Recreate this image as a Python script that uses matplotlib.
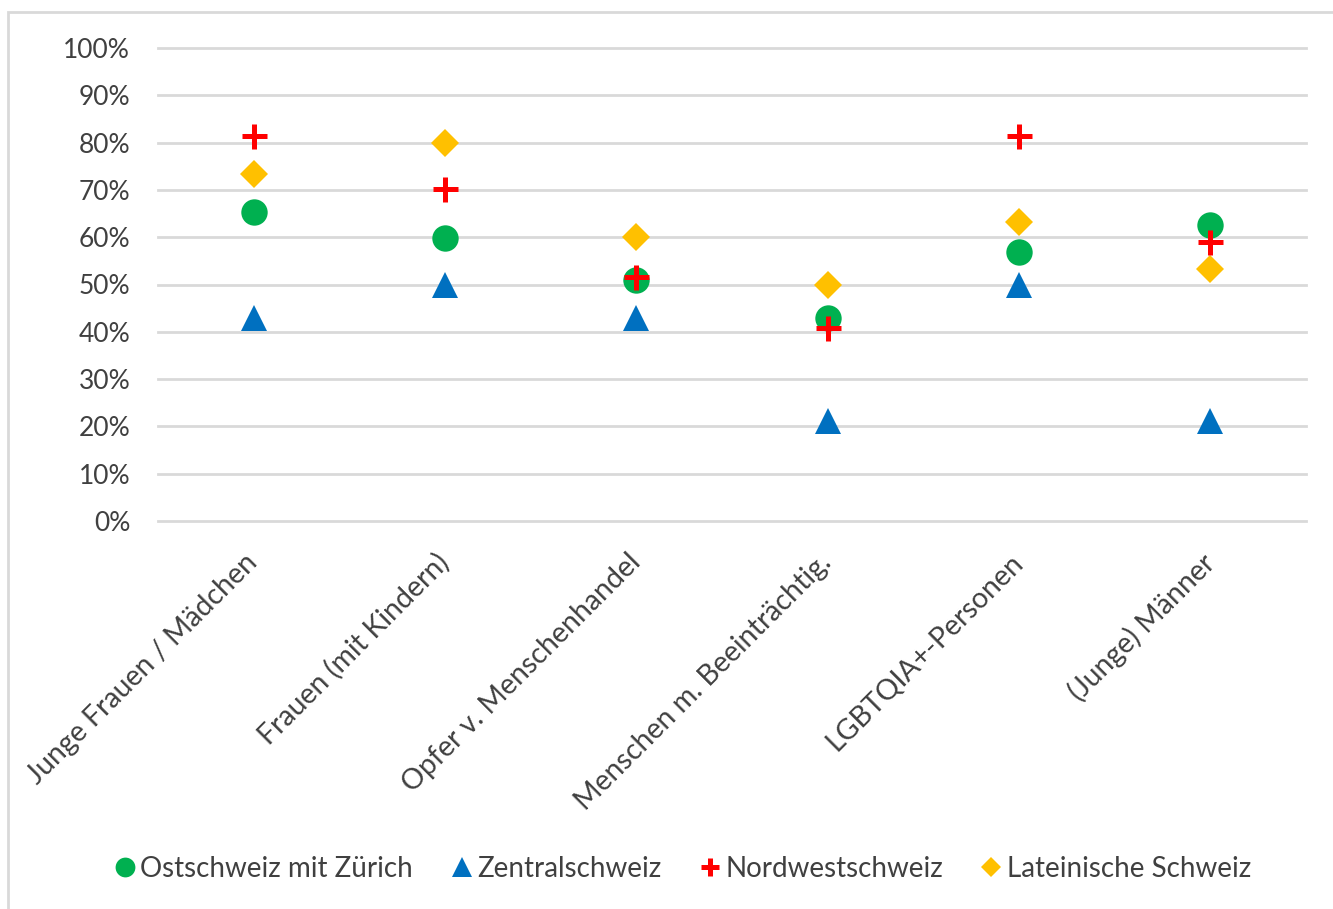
import matplotlib
matplotlib.use("Agg")
import matplotlib.pyplot as plt
from matplotlib.patches import Rectangle
from matplotlib.ticker import PercentFormatter

plt.rcParams["font.family"] = ["Lato", "DejaVu Sans"]

# Zielgruppen (x-Achse)
kategorien = [
    "Junge Frauen / Mädchen",
    "Frauen (mit Kindern)",
    "Opfer v. Menschenhandel",
    "Menschen m. Beeinträchtig.",
    "LGBTQIA+-Personen",
    "(Junge) Männer",
]

# Anteile je Region (0..1)
ostschweiz = [0.653, 0.598, 0.510, 0.429, 0.569, 0.626]
zentralschweiz = [0.429, 0.500, 0.429, 0.211, 0.500, 0.211]
nordwestschweiz = [0.815, 0.702, 0.516, 0.407, 0.815, 0.590]
lateinische = [0.733, 0.800, 0.600, 0.500, 0.632, 0.533]

fig = plt.figure(figsize=(13.33, 9.09), dpi=100)
ax = fig.add_axes([158 / 1333, 1 - 521 / 909, (1306 - 158) / 1333, (521 - 48) / 909])

x = range(len(kategorien))
ax.plot(x, ostschweiz, "o", ms=19, color="#00B050", mew=0, label="Ostschweiz mit Zürich", zorder=3)
ax.plot(x, zentralschweiz, "^", ms=19, color="#0070C0", mew=0, label="Zentralschweiz", zorder=3)
ax.plot(x, nordwestschweiz, "+", ms=18, color="#FF0000", mew=3.6, label="Nordwestschweiz", zorder=4)
ax.plot(x, lateinische, "D", ms=14, color="#FFC000", mew=0, label="Lateinische Schweiz", zorder=3)

ax.set_xlim(-0.5, len(kategorien) - 0.5)
ax.set_ylim(0, 1)
ax.set_yticks([i / 10 for i in range(11)])
ax.yaxis.set_major_formatter(PercentFormatter(1.0, decimals=0))
ax.set_xticks(list(x))
ax.set_xticklabels(kategorien, rotation=45, ha="right", va="center", rotation_mode="anchor")

ax.tick_params(axis="both", length=0, labelcolor="#404040")
ax.tick_params(axis="y", pad=20, labelsize=19)
ax.tick_params(axis="x", pad=27, labelsize=20.5)

for s in ax.spines.values():
    s.set_visible(False)
ax.yaxis.grid(True, color="#D9D9D9", linewidth=2)
ax.set_axisbelow(True)
for gl in ax.get_ygridlines():
    gl.set_clip_on(False)

leg = fig.legend(loc="center", bbox_to_anchor=(681 / 1333, 1 - 869 / 909), ncol=4,
                 frameon=False, fontsize=20, handletextpad=0.05, columnspacing=1.25,
                 markerscale=0.75, handlelength=1.0)
for t in leg.get_texts():
    t.set_color("#404040")

# Rahmen des Diagrammbereichs
fig.patches.append(Rectangle((8 / 1333, -0.5), 2, 1.5 - 12 / 909, transform=fig.transFigure,
                             fill=False, edgecolor="#D9D9D9", linewidth=2))

fig.savefig("out.png", dpi=100)
